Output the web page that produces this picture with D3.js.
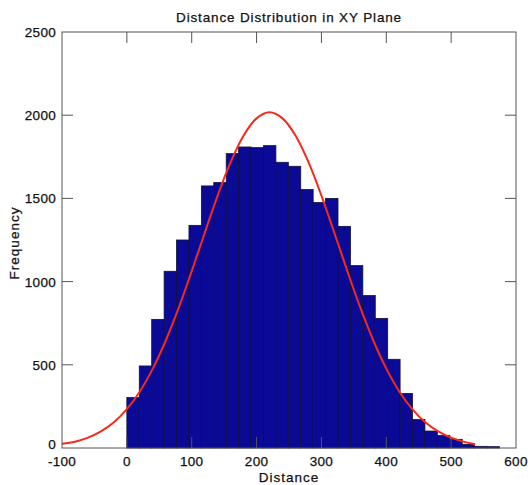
<!DOCTYPE html>
<html>
<head>
<meta charset="utf-8">
<script src="https://cdn.jsdelivr.net/npm/d3@7"></script>
<style>
  body { margin: 0; background: #fff; }
  svg { display: block; font-family: "Liberation Sans", Arial, Helvetica, sans-serif; }
  .lbl { fill: #111; stroke: #111; stroke-width: 0.25; }
</style>
</head>
<body>
<svg id="chart" width="528" height="485"></svg>
<script>
// histogram bin edges (distance) and counts per bin
const binEdges = [0, 19.15, 38.3, 57.45, 76.6, 95.75, 114.9, 134.05, 153.2, 172.35, 191.5,
  210.65, 229.8, 248.95, 268.1, 287.25, 306.4, 325.55, 344.7, 363.85, 383,
  402.15, 421.3, 440.45, 459.6, 478.75, 497.9, 517.05, 536.2, 555.35, 574.5];
const counts = [303, 493, 773, 1062, 1250, 1338, 1575, 1595, 1769, 1809, 1805, 1817, 1717, 1693, 1553,
  1475, 1500, 1332, 1096, 916, 779, 533, 328, 171, 102, 76, 52, 22, 10, 8];

// fitted curve
const fitX = [-100, -80, -60, -40, -20, 0, 20, 40, 60, 80, 100, 120, 140, 160, 180, 200, 220,
  240, 260, 280, 300, 320, 340, 360, 380, 400, 420, 440, 460, 480, 500, 520, 537];
const fitY = [25, 38, 62, 100, 155, 234, 340, 477, 646, 843, 1063, 1292, 1517, 1718, 1878, 1981, 2017,
  1981, 1878, 1718, 1517, 1292, 1063, 843, 646, 477, 340, 234, 155, 100, 62, 37, 23];

const xTicks = [-100, 0, 100, 200, 300, 400, 500, 600];
const yTicks = [0, 500, 1000, 1500, 2000, 2500];

const margin = { left: 62, right: 12, top: 32, bottom: 37 };
const width = 528, height = 485;
const svg = d3.select("#chart");

const x = d3.scaleLinear().domain([-100, 600]).range([margin.left, width - margin.right]);
const y = d3.scaleLinear().domain([0, 2500]).range([height - margin.bottom, margin.top]);

const bins = counts.map((c, i) => ({ x0: binEdges[i], x1: binEdges[i + 1], n: c }));

// bars
svg.append("g")
  .selectAll("rect")
  .data(bins)
  .join("rect")
  .attr("x", d => x(d.x0))
  .attr("y", d => y(d.n))
  .attr("width", d => x(d.x1) - x(d.x0))
  .attr("height", d => y(0) - y(d.n))
  .attr("fill", "#0a0a96")
  .attr("stroke", "#10103a")
  .attr("stroke-width", 0.8);

// fit line
const line = d3.line()
  .x((d, i) => x(fitX[i]))
  .y(d => y(d))
  .curve(d3.curveCatmullRom);

svg.append("path")
  .attr("d", line(fitY))
  .attr("fill", "none")
  .attr("stroke", "#f42a1c")
  .attr("stroke-width", 2);

// frame and ticks on all sides
const tickLen = 11;
const axisColor = "#555";
const frame = svg.append("g").attr("stroke", axisColor).attr("stroke-width", 1);
frame.append("rect")
  .attr("x", x(-100)).attr("y", y(2500))
  .attr("width", x(600) - x(-100)).attr("height", y(0) - y(2500))
  .attr("fill", "none");

frame.selectAll(".xt")
  .data(xTicks.slice(1, -1))
  .join(enter => {
    const g = enter.append("g");
    g.append("line").attr("x1", d => x(d)).attr("x2", d => x(d))
      .attr("y1", y(0)).attr("y2", y(0) - tickLen);
    g.append("line").attr("x1", d => x(d)).attr("x2", d => x(d))
      .attr("y1", y(2500)).attr("y2", y(2500) + tickLen);
    return g;
  });

frame.selectAll(".yt")
  .data(yTicks.slice(1, -1))
  .join(enter => {
    const g = enter.append("g");
    g.append("line").attr("y1", d => y(d)).attr("y2", d => y(d))
      .attr("x1", x(-100)).attr("x2", x(-100) + tickLen);
    g.append("line").attr("y1", d => y(d)).attr("y2", d => y(d))
      .attr("x1", x(600)).attr("x2", x(600) - tickLen);
    return g;
  });

// tick labels
svg.append("g")
  .attr("font-size", 13.5)
  .attr("letter-spacing", 0.3)
  .attr("text-anchor", "middle")
  .selectAll("text")
  .data(xTicks)
  .join("text")
  .attr("class", "lbl")
  .attr("x", d => x(d))
  .attr("y", y(0) + 18)
  .text(d => d);

svg.append("g")
  .attr("font-size", 13.5)
  .attr("letter-spacing", 0.3)
  .attr("text-anchor", "end")
  .selectAll("text")
  .data(yTicks)
  .join("text")
  .attr("class", "lbl")
  .attr("x", x(-100) - 6)
  .attr("y", d => y(d) + (d === 0 ? 1 : 5))
  .text(d => d);

// titles
svg.append("text")
  .attr("class", "lbl")
  .attr("x", (x(-100) + x(600)) / 2)
  .attr("y", 22)
  .attr("text-anchor", "middle")
  .attr("font-size", 13.5)
  .attr("letter-spacing", 0.85)
  .text("Distance Distribution in XY Plane");

svg.append("text")
  .attr("class", "lbl")
  .attr("x", (x(-100) + x(600)) / 2)
  .attr("y", 482)
  .attr("text-anchor", "middle")
  .attr("font-size", 13.5)
  .attr("letter-spacing", 1)
  .text("Distance");

svg.append("text")
  .attr("class", "lbl")
  .attr("transform", `translate(19,${(y(0) + y(2500)) / 2 + 3}) rotate(-90)`)
  .attr("text-anchor", "middle")
  .attr("font-size", 13.5)
  .attr("letter-spacing", 1)
  .text("Frequency");
</script>
</body>
</html>
